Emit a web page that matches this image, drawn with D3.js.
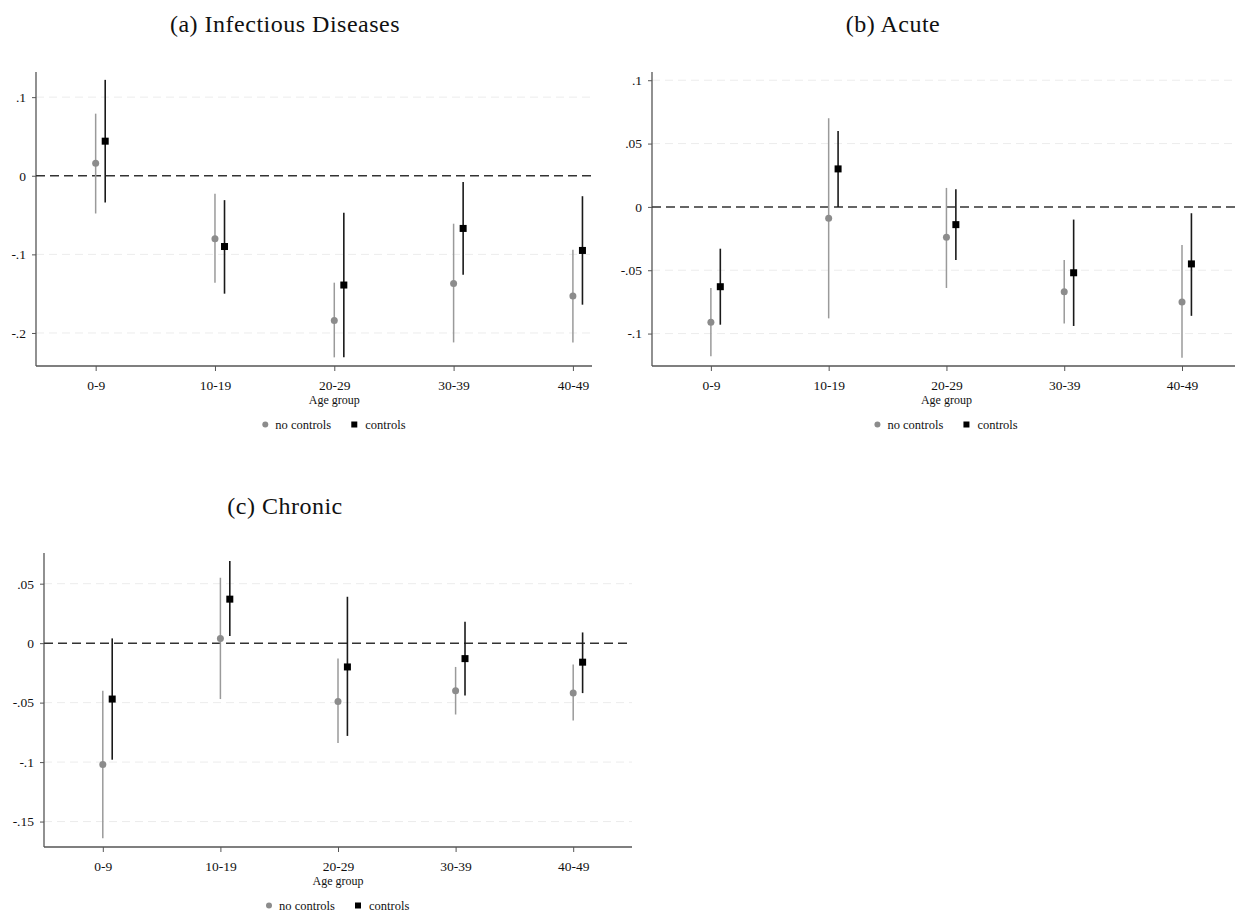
<!DOCTYPE html>
<html>
<head>
<meta charset="utf-8">
<script src="https://cdn.jsdelivr.net/npm/d3@7"></script>
<style>
  body { margin: 0; background: #fff; }
  svg { display: block; font-family: "Liberation Serif", "DejaVu Serif", serif; }
</style>
</head>
<body>
<div class="chart"></div>
<script>
const ageGroups = ["0-9", "10-19", "20-29", "30-39", "40-49"];

// point estimate, lower CI, upper CI for each age group
const infNoControls = [[0.016, -0.048, 0.079], [-0.080, -0.136, -0.023], [-0.184, -0.231, -0.136], [-0.137, -0.212, -0.061], [-0.153, -0.212, -0.094]];
const infControls = [[0.044, -0.034, 0.122], [-0.090, -0.150, -0.031], [-0.139, -0.231, -0.047], [-0.067, -0.126, -0.008], [-0.095, -0.164, -0.026]];

const acuteNoControls = [[-0.091, -0.118, -0.064], [-0.009, -0.088, 0.070], [-0.024, -0.064, 0.015], [-0.067, -0.092, -0.042], [-0.075, -0.119, -0.030]];
const acuteControls = [[-0.063, -0.093, -0.033], [0.030, 0.000, 0.060], [-0.014, -0.042, 0.014], [-0.052, -0.094, -0.010], [-0.045, -0.086, -0.005]];

const chronicNoControls = [[-0.102, -0.164, -0.040], [0.004, -0.047, 0.055], [-0.049, -0.084, -0.013], [-0.040, -0.060, -0.020], [-0.042, -0.065, -0.018]];
const chronicControls = [[-0.047, -0.098, 0.004], [0.037, 0.006, 0.069], [-0.020, -0.078, 0.039], [-0.013, -0.044, 0.018], [-0.016, -0.042, 0.009]];

const infTicks = [0.1, 0, -0.1, -0.2];
const acuteTicks = [0.1, 0.05, 0, -0.05, -0.1];
const chronicTicks = [0.05, 0, -0.05, -0.1, -0.15];

function fmtTick(v) {
  if (v === 0) return "0";
  let s = String(v);
  return s.replace("0.", ".");
}

const width = 1235;
const height = 912;
const svg = d3
  .select(".chart")
  .append("svg")
  .attr("width", width)
  .attr("height", height);

function drawPanel(opt) {
  const g = svg.append("g");
  const x = d3.scaleLinear().domain(opt.xDomain).range([opt.left, opt.right]);
  const y = d3.scaleLinear().domain(opt.yDomain).range([opt.bottom, opt.top]);
  const off = 0.08;

  // title
  g.append("text")
    .attr("x", opt.titleX)
    .attr("y", opt.titleY)
    .attr("text-anchor", "middle")
    .attr("font-size", "24px")
    .attr("letter-spacing", "0.5px")
    .attr("fill", "#111")
    .text(opt.title);

  // grid lines
  g.selectAll(".grid")
    .data(opt.ticks.filter(function (t) { return t !== 0; }))
    .enter()
    .append("line")
    .attr("x1", opt.left)
    .attr("x2", opt.right)
    .attr("y1", function (d) { return y(d); })
    .attr("y2", function (d) { return y(d); })
    .attr("stroke", "#ececec")
    .attr("stroke-width", 1)
    .attr("stroke-dasharray", "8,5");

  // y axis
  const yAxis = d3.axisLeft(y).tickValues(opt.ticks).tickSize(4).tickPadding(6).tickFormat(fmtTick);
  const ya = g.append("g").attr("transform", "translate(" + opt.left + ",0)").call(yAxis);
  ya.select(".domain").attr("d", "M0," + opt.top + "V" + opt.bottom).attr("stroke", "#555").attr("stroke-width", 1.3);
  ya.selectAll(".tick line").attr("stroke", "#555");
  ya.selectAll(".tick text").attr("font-size", "13.5px").attr("fill", "#111").attr("font-family", "Liberation Serif, serif");

  // x axis
  const xAxis = d3.axisBottom(x).tickValues([1, 2, 3, 4, 5]).tickSize(5).tickPadding(9)
    .tickFormat(function (d) { return ageGroups[d - 1]; });
  const xa = g.append("g").attr("transform", "translate(0," + opt.bottom + ")").call(xAxis);
  xa.select(".domain").attr("d", "M" + opt.left + ",0H" + opt.right).attr("stroke", "#555").attr("stroke-width", 1.3);
  xa.selectAll(".tick line").attr("stroke", "#555");
  xa.selectAll(".tick text").attr("font-size", "13.5px").attr("fill", "#111").attr("font-family", "Liberation Serif, serif");

  // zero line
  g.append("line")
    .attr("x1", opt.left)
    .attr("x2", opt.right)
    .attr("y1", y(0))
    .attr("y2", y(0))
    .attr("stroke", "#333")
    .attr("stroke-width", 1.5)
    .attr("stroke-dasharray", "9,5");

  // no controls: gray
  g.selectAll(".ciNo")
    .data(opt.noControls)
    .enter()
    .append("line")
    .attr("x1", function (d, i) { return x(i + 1); })
    .attr("x2", function (d, i) { return x(i + 1); })
    .attr("y1", function (d) { return y(d[1]); })
    .attr("y2", function (d) { return y(d[2]); })
    .attr("stroke", "#9a9a9a")
    .attr("stroke-width", 1.5);

  g.selectAll(".ptNo")
    .data(opt.noControls)
    .enter()
    .append("circle")
    .attr("cx", function (d, i) { return x(i + 1); })
    .attr("cy", function (d) { return y(d[0]); })
    .attr("r", 3.5)
    .attr("fill", "#8c8c8c");

  // controls: black
  g.selectAll(".ciC")
    .data(opt.controls)
    .enter()
    .append("line")
    .attr("x1", function (d, i) { return x(i + 1 + off); })
    .attr("x2", function (d, i) { return x(i + 1 + off); })
    .attr("y1", function (d) { return y(d[1]); })
    .attr("y2", function (d) { return y(d[2]); })
    .attr("stroke", "#1a1a1a")
    .attr("stroke-width", 1.6);

  g.selectAll(".ptC")
    .data(opt.controls)
    .enter()
    .append("rect")
    .attr("x", function (d, i) { return x(i + 1 + off) - 3.5; })
    .attr("y", function (d) { return y(d[0]) - 3.5; })
    .attr("width", 7)
    .attr("height", 7)
    .attr("fill", "#000");

  // axis title
  g.append("text")
    .attr("x", x(3))
    .attr("y", opt.bottom + 38)
    .attr("text-anchor", "middle")
    .attr("font-size", "12px")
    .attr("fill", "#111")
    .text("Age group");

  // legend
  const ly = opt.bottom + 59;
  const lx = x(3) - 69;
  g.append("circle").attr("cx", lx).attr("cy", ly - 0.5).attr("r", 3).attr("fill", "#8c8c8c");
  g.append("text").attr("x", lx + 10).attr("y", ly + 3.5).attr("font-size", "12.5px").attr("fill", "#111").text("no controls");
  g.append("rect").attr("x", lx + 86).attr("y", ly - 3.5).attr("width", 6).attr("height", 6).attr("fill", "#000");
  g.append("text").attr("x", lx + 100).attr("y", ly + 3.5).attr("font-size", "12.5px").attr("fill", "#111").text("controls");
}

drawPanel({
  title: "(a) Infectious Diseases", titleX: 285, titleY: 32,
  left: 36, right: 592, top: 72, bottom: 366,
  xDomain: [0.5, 5.16], yDomain: [-0.242, 0.132], ticks: infTicks,
  noControls: infNoControls, controls: infControls
});

drawPanel({
  title: "(b) Acute", titleX: 893, titleY: 32,
  left: 652, right: 1235, top: 72, bottom: 366,
  xDomain: [0.5, 5.45], yDomain: [-0.1256, 0.1065], ticks: acuteTicks,
  noControls: acuteNoControls, controls: acuteControls
});

drawPanel({
  title: "(c) Chronic", titleX: 285, titleY: 514,
  left: 44, right: 632, top: 553, bottom: 847,
  xDomain: [0.5, 5.5], yDomain: [-0.1714, 0.0758], ticks: chronicTicks,
  noControls: chronicNoControls, controls: chronicControls
});
</script>
</body>
</html>
